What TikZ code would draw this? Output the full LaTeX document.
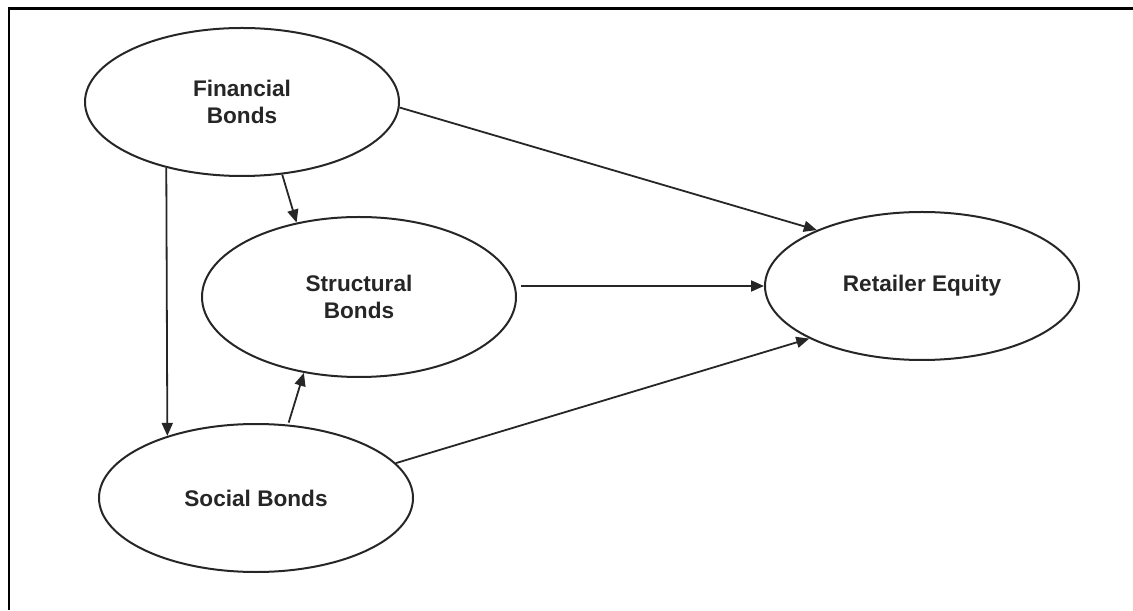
\documentclass[tikz,border=0pt]{standalone}
\usepackage{fontspec}
\setmainfont{Liberation Sans}
\usepackage{tikz}
\usetikzlibrary{shapes,arrows,positioning,calc}
\usetikzlibrary{arrows.meta}

\begin{document}
\begin{tikzpicture}[x=0.5pt,y=0.5pt,
  bond/.style={ellipse,draw=black!85,line width=1pt,inner sep=0pt,minimum width=157pt,minimum height=74pt,align=center,text=black!85,font=\fontsize{11.3}{13.2}\selectfont\bfseries},
  link/.style={-{Triangle[length=6.5pt,width=5.5pt]},draw=black!85,fill=black!85,line width=0.9pt}]
  \useasboundingbox (0,0) rectangle (1133,610);
  \draw[line width=1.3pt] (9,0) -- (9,601.5) -- (1133,601.5); % frame, cut at right and bottom
    \node[bond] (fin) at (242,508) {Financial\\Bonds};
    \node[bond,minimum height=80pt] (str) at (359,313) {Structural\\Bonds};
    \node[bond] (soc) at (256,112) {Social Bonds};
    \node[bond] (ret) at (922,324) {Retailer Equity};
    \draw[link] (fin.-2) -- (ret.152);
    \draw[link] (fin.-61) -- (str.130);
    \draw[link] (fin.221) -- (soc.145);
    \draw[link] ([xshift=2pt]str.east |- ret.west) -- (ret.west);
    \draw[link] ([yshift=1pt]soc.66) -- (str.234);
    \draw[link] (soc.14) -- (ret.205);
\end{tikzpicture}
\end{document}
